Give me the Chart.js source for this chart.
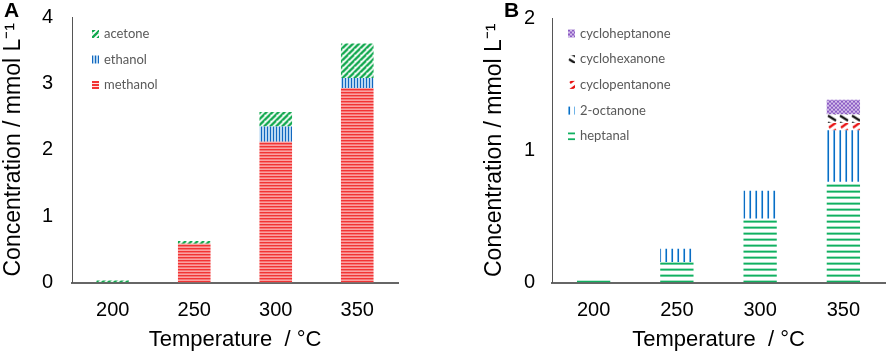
<!DOCTYPE html>
<html>
<head>
<meta charset="utf-8">
<script src="https://cdn.jsdelivr.net/npm/chart.js@4.4.0/dist/chart.umd.min.js"></script>
<style>
  body { margin: 0; background: #fff; }
  #wrap { position: relative; width: 886px; height: 356px; }
  canvas { position: absolute; top: 0; }
  .tag { position: absolute; font: bold 21px "Liberation Sans", Arial, sans-serif; color: #000; }
</style>
</head>
<body>
<div id="wrap">
  <canvas id="chartA" width="443" height="356" style="left:0"></canvas>
  <canvas id="chartB" width="443" height="356" style="left:443px"></canvas>
  <div class="tag" style="left:4px;top:-2px">A</div>
  <div class="tag" style="left:504px;top:-2px">B</div>
</div>
<script>
// data (mmol/L)
var temperatures = ['200', '250', '300', '350'];

var methanol = [0, 0.585, 2.12, 2.93];
var ethanol  = [0, 0, 0.23, 0.15];
var acetone  = [0.03, 0.04, 0.22, 0.52];

var heptanal       = [0.017, 0.156, 0.485, 0.762];
var octanone       = [0, 0.10, 0.21, 0.39];
var cyclopentanone = [0, 0, 0, 0.055];
var cyclohexanone  = [0, 0, 0, 0.065];
var cycloheptanone = [0, 0, 0, 0.11];

var axisFont = '"Liberation Sans", Arial, sans-serif';

// small hatch tiles -> CanvasPattern
function hatch(target, w, h, draw) {
  var c = document.createElement('canvas');
  c.width = w; c.height = h;
  draw(c.getContext('2d'));
  return target.getContext('2d').createPattern(c, 'repeat');
}

var cA = document.getElementById('chartA');
var cB = document.getElementById('chartB');

var pMethanol = hatch(cA, 4, 3, function (g) {
  g.fillStyle = '#ffe4e4'; g.fillRect(0, 0, 4, 3);
  g.fillStyle = '#f23434'; g.fillRect(0, 1, 4, 2);
});
var pEthanol = hatch(cA, 3, 4, function (g) {
  g.fillStyle = '#b9d7f1'; g.fillRect(0, 0, 3, 4);
  g.fillStyle = '#1268c0'; g.fillRect(0, 0, 1, 4);
});
var pAcetone = hatch(cA, 6, 6, function (g) {
  g.strokeStyle = '#11a84e'; g.lineWidth = 2.4;
  [[-6, 6, 0, 0], [0, 6, 6, 0], [0, 12, 12, 0]].forEach(function (l) {
    g.beginPath(); g.moveTo(l[0], l[1]); g.lineTo(l[2], l[3]); g.stroke();
  });
});

var pHeptanal = hatch(cB, 4, 6, function (g) {
  g.fillStyle = '#10b060'; g.fillRect(0, 4, 4, 2);
});
var pOctanone = hatch(cB, 6, 4, function (g) {
  g.fillStyle = '#6fb4e8'; g.fillRect(0, 0, 1, 4);
  g.fillStyle = '#0b6cc2'; g.fillRect(1, 0, 1, 4);
});
var pCyclopent = hatch(cB, 12, 7, function (g) {
  g.strokeStyle = '#e81010'; g.lineWidth = 2.2;
  g.beginPath(); g.moveTo(2, 6); g.lineTo(9, 1); g.stroke();
});
var pCyclohex = hatch(cB, 12, 7, function (g) {
  g.strokeStyle = '#111'; g.lineWidth = 2.2;
  g.beginPath(); g.moveTo(1, 1); g.lineTo(9, 6); g.stroke();
});
var pCyclohept = hatch(cB, 4, 4, function (g) {
  g.fillStyle = '#d4c0ea'; g.fillRect(0, 0, 4, 4);
  g.fillStyle = '#8c5cc4'; g.fillRect(0, 0, 2, 2); g.fillRect(2, 2, 2, 2);
});

// anchor the hatch to the zero line so thin bars still show a stroke
var anchorPatterns = {
  id: 'anchorPatterns',
  beforeDatasetsDraw: function (chart) {
    var b = chart.chartArea.bottom;
    chart.data.datasets.forEach(function (ds) {
      if (ds.backgroundColor.setTransform) {
        ds.backgroundColor.setTransform(new DOMMatrix().translate(0, b));
      }
    });
  }
};

// legend drawn inside the plot, top-left, last series first
var innerLegend = {
  id: 'innerLegend',
  afterDraw: function (chart, args, opts) {
    var ctx = chart.ctx, area = chart.chartArea;
    var sets = chart.data.datasets.slice().reverse();
    ctx.save();
    ctx.font = '13px Lato';
    ctx.textBaseline = 'middle';
    sets.forEach(function (ds, i) {
      var x = area.left + opts.x;
      var y = area.top + opts.y + i * opts.step;
      var fill = ds.backgroundColor;
      if (fill.setTransform) fill.setTransform(new DOMMatrix().translate(x, y - 8));
      ctx.fillStyle = fill;
      ctx.fillRect(x, y - 4, 7, 8);
      ctx.fillStyle = '#595959';
      ctx.fillText(ds.label, x + 12, y);
    });
    ctx.restore();
  }
};

function options(yMax, pad, yWidth, tickPad, legendPos) {
  return {
    responsive: false,
    animation: false,
    devicePixelRatio: 1,
    layout: { padding: pad },
    plugins: {
      legend: { display: false },
      tooltip: { enabled: false },
      innerLegend: legendPos
    },
    scales: {
      x: {
        stacked: true,
        grid: { display: false, drawTicks: false },
        border: { display: true, color: '#666', width: 2 },
        ticks: { color: '#000', font: { family: axisFont, size: 20 }, padding: 16 },
        title: {
          display: true, text: 'Temperature  / °C', color: '#000',
          font: { family: axisFont, size: 22 }, padding: { top: -12, bottom: 2 }
        }
      },
      y: {
        stacked: true,
        min: 0, max: yMax,
        grid: { display: false, drawTicks: false },
        border: { display: true, color: '#555', width: 1 },
        ticks: { stepSize: 1, color: '#000', font: { family: axisFont, size: 20 }, padding: tickPad },
        title: {
          display: true, text: 'Concentration / mmol L⁻¹', color: '#000',
          font: { family: axisFont, size: 23 }, padding: { top: 0, bottom: 0 }
        },
        afterFit: function (scale) {
          scale.width = yWidth;
          scale.paddingTop = 0;
          scale.paddingBottom = 0;
        }
      }
    }
  };
}

function bar(label, values, fill) {
  return {
    label: label, data: values, backgroundColor: fill, borderWidth: 0,
    categoryPercentage: 1, barPercentage: 0.4
  };
}

new Chart(cA, {
  type: 'bar',
  data: {
    labels: temperatures,
    datasets: [
      bar('methanol', methanol, pMethanol),
      bar('ethanol', ethanol, pEthanol),
      bar('acetone', acetone, pAcetone)
    ]
  },
  options: options(4, { left: 0, top: 17, right: 45, bottom: 1 }, 72, 19, { x: 20, y: 17, step: 25.5 }),
  plugins: [anchorPatterns, innerLegend]
});

new Chart(cB, {
  type: 'bar',
  data: {
    labels: temperatures,
    datasets: [
      bar('heptanal', heptanal, pHeptanal),
      bar('2-octanone', octanone, pOctanone),
      bar('cyclopentanone', cyclopentanone, pCyclopent),
      bar('cyclohexanone', cyclohexanone, pCyclohex),
      bar('cycloheptanone', cycloheptanone, pCyclohept)
    ]
  },
  options: options(2, { left: 38, top: 18, right: 1, bottom: 1 }, 71, 17, { x: 16, y: 15.5, step: 25.7 }),
  plugins: [anchorPatterns, innerLegend]
});
</script>
</body>
</html>
